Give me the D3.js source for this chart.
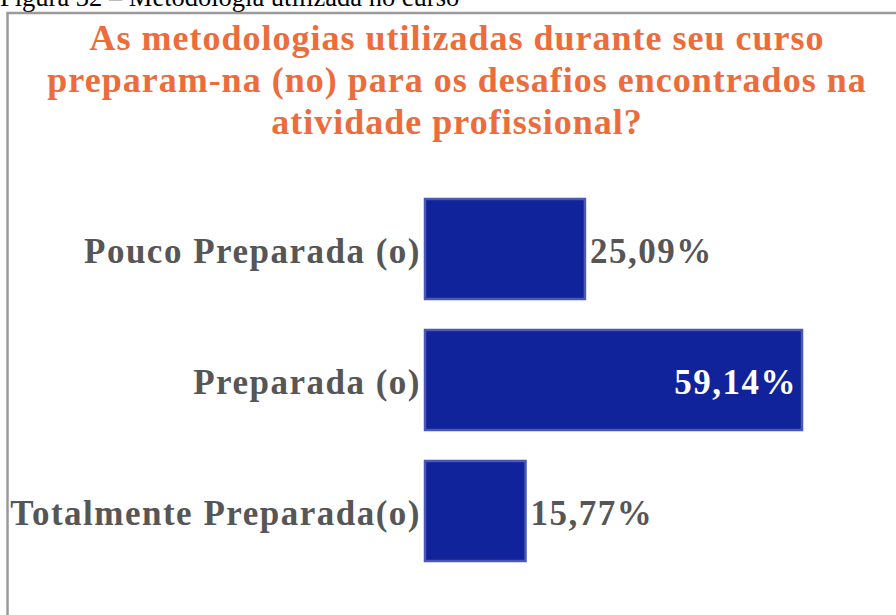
<!DOCTYPE html>
<html>
<head>
<meta charset="utf-8">
<script src="https://cdn.jsdelivr.net/npm/d3@7"></script>
<style>
  html, body { margin: 0; padding: 0; background: #fff; }
  svg { display: block; }
</style>
</head>
<body>
<svg id="chart" width="896" height="615"></svg>
<script>
// Survey answers and their shares (%)
const categories = ["Pouco Preparada (o)", "Preparada (o)", "Totalmente Preparada(o)"];
const values = [25.09, 59.14, 15.77];
const valueLabels = ["25,09%", "59,14%", "15,77%"];
const titleLines = [
  "As metodologias utilizadas durante seu curso",
  "preparam-na (no) para os desafios encontrados na",
  "atividade profissional?"
];
const caption = "Figura 32 \u2013 Metodologia utilizada no curso";

const svg = d3.select("#chart");
const serif = "Liberation Serif, Times New Roman, serif";

// figure caption above the frame (its top runs off the page)
svg.append("text")
  .attr("x", 0).attr("y", 6)
  .attr("font-family", serif)
  .attr("font-size", 26.5)
  .attr("fill", "#000")
  .text(caption);

// chart frame
svg.append("rect")
  .attr("x", 7.5).attr("y", 13)
  .attr("width", 900).attr("height", 620)
  .attr("fill", "#fff")
  .attr("stroke", "#9a9a9a")
  .attr("stroke-width", 2.5);

// title
svg.append("g")
  .selectAll("text")
  .data(titleLines)
  .join("text")
  .attr("x", 457)
  .attr("y", (d, i) => 50 + i * 42)
  .attr("text-anchor", "middle")
  .attr("font-family", serif)
  .attr("font-weight", "bold")
  .attr("font-size", 36)
  .attr("letter-spacing", 1)
  .attr("fill", "#ec6c3c")
  .text(d => d);

// scales
const x = d3.scaleLinear().domain([0, 100]).range([425, 425 + 637.5]);
const y = d3.scaleBand().domain(categories).range([199, 561]).paddingInner(31 / 131).paddingOuter(0);

const rows = svg.append("g")
  .selectAll("g")
  .data(categories.map((c, i) => ({ c, v: values[i], label: valueLabels[i] })))
  .join("g");

rows.append("rect")
  .attr("x", x(0))
  .attr("y", d => y(d.c))
  .attr("width", d => x(d.v) - x(0))
  .attr("height", y.bandwidth())
  .attr("fill", "#10239a")
  .attr("stroke", "#4a59b3")
  .attr("stroke-width", 2.5);

const labelY = d => y(d.c) + y.bandwidth() / 2 + 14;

// category labels
rows.append("text")
  .attr("x", x(0) - 4)
  .attr("y", labelY)
  .attr("text-anchor", "end")
  .attr("font-family", serif)
  .attr("font-weight", "bold")
  .attr("font-size", 35)
  .attr("letter-spacing", 1.5)
  .attr("fill", "#565656")
  .text(d => d.c);

// value labels: inside the longest bar, beside the others
const inside = d => d.v > 40;
rows.append("text")
  .attr("x", d => inside(d) ? x(d.v) - 5 : x(d.v) + 5)
  .attr("y", labelY)
  .attr("text-anchor", d => inside(d) ? "end" : "start")
  .attr("font-family", serif)
  .attr("font-weight", "bold")
  .attr("font-size", 35)
  .attr("letter-spacing", 1.5)
  .attr("fill", d => inside(d) ? "#fff" : "#565656")
  .text(d => d.label);
</script>
</body>
</html>
